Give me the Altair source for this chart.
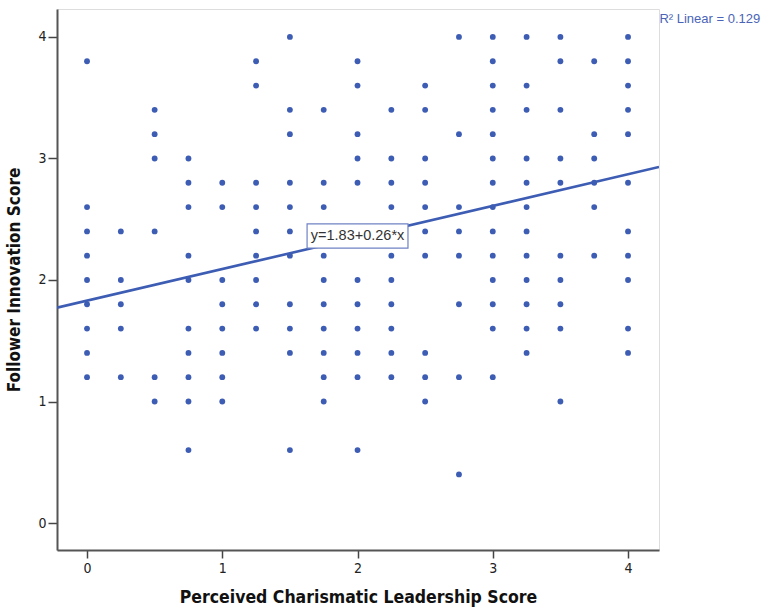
import altair as alt
import pandas as pd

# Follower innovation scores observed at each perceived-charisma level
x_levels = [0.0, 0.25, 0.5, 0.75, 1.0, 1.25, 1.5, 1.75, 2.0,
            2.25, 2.5, 2.75, 3.0, 3.25, 3.5, 3.75, 4.0]
y_at_level = [
    [3.8, 2.6, 2.4, 2.2, 2.0, 1.8, 1.6, 1.4, 1.2],
    [2.4, 2.0, 1.8, 1.6, 1.2],
    [3.4, 3.2, 3.0, 2.4, 1.2, 1.0],
    [3.0, 2.8, 2.6, 2.2, 2.0, 1.6, 1.4, 1.2, 1.0, 0.6],
    [2.8, 2.6, 2.0, 1.8, 1.6, 1.4, 1.2, 1.0],
    [3.8, 3.6, 2.8, 2.6, 2.4, 2.2, 2.0, 1.8, 1.6],
    [4.0, 3.4, 3.2, 2.8, 2.6, 2.4, 2.2, 1.8, 1.6, 1.4, 0.6],
    [3.4, 2.8, 2.6, 2.2, 2.0, 1.8, 1.6, 1.4, 1.2, 1.0],
    [3.8, 3.6, 3.2, 3.0, 2.8, 2.0, 1.8, 1.6, 1.4, 1.2, 0.6],
    [3.4, 3.0, 2.8, 2.6, 2.2, 2.0, 1.8, 1.6, 1.4, 1.2],
    [3.6, 3.4, 3.0, 2.8, 2.6, 2.4, 2.2, 1.4, 1.2, 1.0],
    [4.0, 3.2, 2.6, 2.4, 2.2, 1.8, 1.2, 0.4],
    [4.0, 3.8, 3.6, 3.4, 3.2, 3.0, 2.8, 2.6, 2.4, 2.2, 2.0, 1.8, 1.6, 1.2],
    [4.0, 3.6, 3.4, 3.0, 2.8, 2.6, 2.4, 2.2, 2.0, 1.8, 1.6, 1.4],
    [4.0, 3.8, 3.4, 3.0, 2.8, 2.2, 2.0, 1.8, 1.6, 1.0],
    [3.8, 3.2, 3.0, 2.8, 2.6, 2.2],
    [4.0, 3.8, 3.6, 3.4, 3.2, 2.8, 2.4, 2.2, 2.0, 1.6, 1.4],
]

# Fitted linear model
intercept = 1.83
slope = 0.26
r_squared = 0.129

x_domain = [-0.222, 4.229]
y_domain = [-0.222, 4.23]
axis_ticks = [0, 1, 2, 3, 4]

BLUE = "#3d5cb3"
NARROW = "Liberation Sans Narrow, Arial Narrow, DejaVu Sans Condensed, sans-serif"

points = pd.DataFrame(
    [(x, y) for x, ys in zip(x_levels, y_at_level) for y in ys],
    columns=["charisma", "innovation"],
)
fit = pd.DataFrame({"charisma": x_domain})
fit["innovation"] = intercept + slope * fit["charisma"]

x_scale = alt.Scale(domain=x_domain, nice=False, zero=False)
y_scale = alt.Scale(domain=y_domain, nice=False, zero=False)

x_axis = alt.Axis(values=axis_ticks, title="Perceived Charismatic Leadership Score",
                  grid=False, format="d", tickSize=8, tickColor="#444",
                  domainColor="#555", domainWidth=2, tickWidth=1.5,
                  labelFontSize=14, labelColor="#222", labelFont=NARROW,
                  labelPadding=3, titleFont=NARROW, titleFontSize=17.5,
                  titleFontWeight="bold", titleColor="#111", titlePadding=13)
y_axis = alt.Axis(values=axis_ticks, title="Follower Innovation Score",
                  grid=False, format="d", tickSize=9, tickColor="#444",
                  domainColor="#555", domainWidth=2, tickWidth=1.5,
                  labelFontSize=14, labelColor="#222", labelFont=NARROW,
                  labelPadding=2, titleFont=NARROW, titleFontSize=17,
                  titleFontWeight="bold", titleColor="#111", titlePadding=14)

scatter = alt.Chart(points).mark_circle(size=34, color=BLUE, opacity=1).encode(
    x=alt.X("charisma:Q", scale=x_scale, axis=x_axis),
    y=alt.Y("innovation:Q", scale=y_scale, axis=y_axis),
)

line = alt.Chart(fit).mark_line(color=BLUE, strokeWidth=2.6, clip=True).encode(
    x=alt.X("charisma:Q", scale=x_scale),
    y=alt.Y("innovation:Q", scale=y_scale),
)

# Equation label drawn in a boxed callout on the fit line
eq_box = pd.DataFrame({"x0": [1.627], "x1": [2.373], "y0": [2.263], "y1": [2.461]})
box = alt.Chart(eq_box).mark_rect(fill="white", stroke="#6f82c4", strokeWidth=1.2).encode(
    x=alt.X("x0:Q", scale=x_scale), x2="x1:Q",
    y=alt.Y("y0:Q", scale=y_scale), y2="y1:Q",
)
eq_text = alt.Chart(pd.DataFrame({"x": [2.0], "y": [2.362],
                                  "t": [f"y={intercept:.2f}+{slope:.2f}*x"]})).mark_text(
    fontSize=14.5, font="Liberation Sans, Arial, sans-serif", color="#333",
    align="center", baseline="middle",
).encode(x=alt.X("x:Q", scale=x_scale), y=alt.Y("y:Q", scale=y_scale), text="t:N")

r2_text = alt.Chart(pd.DataFrame({"x": [4.232], "y": [4.15],
                                  "t": [f"R² Linear = {r_squared:.3f}"]})).mark_text(
    fontSize=13, font="Liberation Sans, Arial, sans-serif", color="#4a64b8",
    align="left", baseline="middle", clip=False,
).encode(x=alt.X("x:Q", scale=x_scale), y=alt.Y("y:Q", scale=y_scale), text="t:N")

chart = (
    alt.layer(scatter, line, box, eq_text, r2_text)
    .properties(width=602, height=541,
                padding={"left": 57, "top": 9, "right": 105, "bottom": 60},
                autosize=alt.AutoSizeParams(type="none"))
    .configure_view(stroke="#999", strokeWidth=2)
    .configure(background="white")
)

chart.save("out.html", embed_options={"renderer": "svg", "actions": False})
